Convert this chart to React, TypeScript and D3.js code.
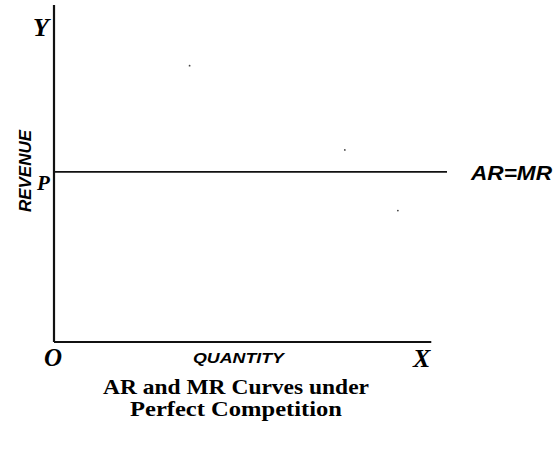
import * as d3 from "d3";

// price line: AR = MR is flat at P under perfect competition
const quantities = [0, 10];
const arMr = [5.05, 5.05];
const axisMax = { x: 9.6, y: 10 };
const titleLines = ["AR and MR Curves under", "Perfect Competition"];
// specks from the scan
const specks = [[3.45, 8.2], [7.4, 5.7], [8.75, 3.9]];

const App = () => {
  const W = 553, H = 455;
  const x = d3.scaleLinear().domain([0, 10]).range([54, 447]);
  const y = d3.scaleLinear().domain([0, 10]).range([342, 5]);
  const line = d3.line<number>().x((_, i) => x(quantities[i])).y((d) => y(d));
  const serif = "'Liberation Serif', 'DejaVu Serif', serif";
  const sans = "'Liberation Sans', Arial, sans-serif";

  return (
    <svg width={W} height={H} style={{ position: "absolute", left: 0, top: 0, background: "#fff" }}>
      {/* axes */}
      <line x1={x(0)} y1={y(0)} x2={x(0)} y2={y(axisMax.y)} stroke="#111" strokeWidth={2.2} />
      <line x1={x(0)} y1={y(0)} x2={x(axisMax.x)} y2={y(0)} stroke="#111" strokeWidth={2.2} />
      {/* AR = MR */}
      <path d={line(arMr) || ""} fill="none" stroke="#111" strokeWidth={1.8} />
      {specks.map((s, i) => (
        <circle key={i} cx={x(s[0])} cy={y(s[1])} r={0.9} fill="#444" />
      ))}
      <text x={33} y={36} fontFamily={serif} fontWeight="bold" fontStyle="italic" fontSize={26}>Y</text>
      <text x={37} y={190} fontFamily={serif} fontWeight="bold" fontStyle="italic" fontSize={21}>P</text>
      <text x={44} y={366} fontFamily={serif} fontWeight="bold" fontStyle="italic" fontSize={25}>O</text>
      <text x={413} y={367} fontFamily={serif} fontWeight="bold" fontStyle="italic" fontSize={26}>X</text>
      <text x={471} y={y(arMr[1]) + 8} fontFamily={sans} fontWeight="bold" fontStyle="italic" fontSize={20} textLength={81} lengthAdjust="spacingAndGlyphs">AR=MR</text>
      <text x={193} y={363} fontFamily={sans} fontWeight="bold" fontStyle="italic" fontSize={14} textLength={91} lengthAdjust="spacingAndGlyphs">QUANTITY</text>
      <text transform="translate(31,212) rotate(-90)" fontFamily={sans} fontWeight="bold" fontStyle="italic" fontSize={16} textLength={82} lengthAdjust="spacingAndGlyphs">REVENUE</text>
      {titleLines.map((t, i) => (
        <text key={i} x={236} y={394 + i * 22} textAnchor="middle" fontFamily={serif} fontWeight="bold" fontSize={21} textLength={i === 0 ? 266 : 212} lengthAdjust="spacingAndGlyphs">{t}</text>
      ))}
    </svg>
  );
};

export default App;
